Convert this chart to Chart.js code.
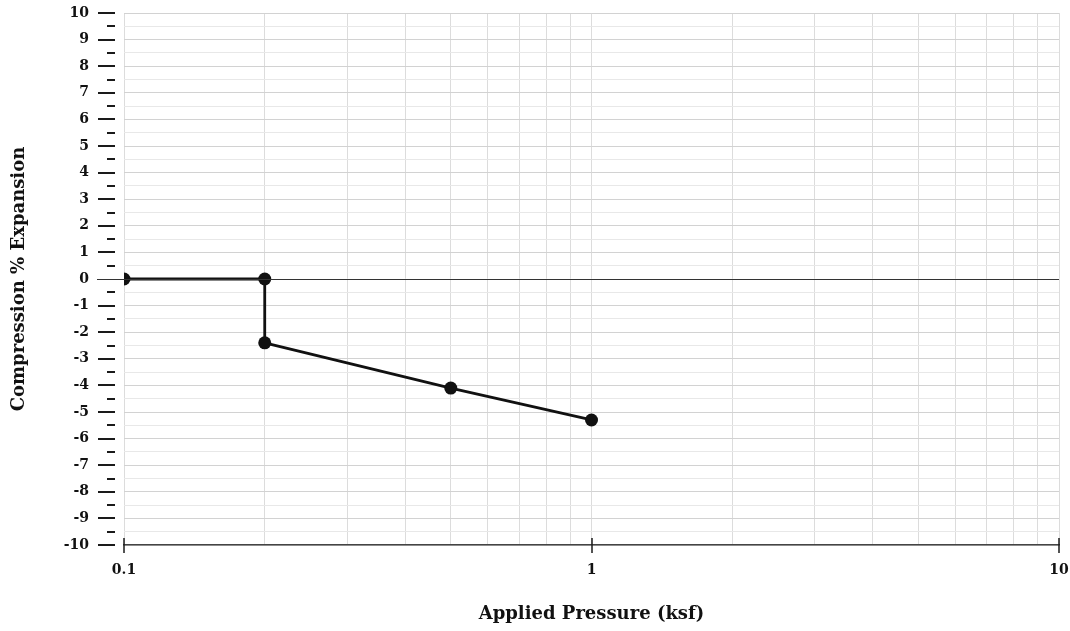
<!DOCTYPE html>
<html>
<head>
<meta charset="utf-8">
<script src="https://cdn.jsdelivr.net/npm/chart.js@4/dist/chart.umd.min.js"></script>
<style>
html,body{margin:0;padding:0;background:#fff;}
#wrap{width:1070px;height:631px;position:relative;}
</style>
</head>
<body>
<div id="wrap"><canvas id="c" width="1070" height="631"></canvas></div>
<script>
// ---- data ----
const pressureKsf = [0.1, 0.2, 0.2, 0.5, 1];
const compressionPct = [0, 0, -2.4, -4.1, -5.3];
const xGridValues = [0.1,0.2,0.3,0.4,0.5,0.6,0.7,0.8,0.9,1,2,3,4,5,6,7,8,9,10];
const xLabelValues = [0.1, 1, 10];
const yMin = -10, yMax = 10, yStep = 0.5;
const xTitle = 'Applied Pressure (ksf)';
const yTitle = 'Compression % Expansion';

const FONT = "'DejaVu Serif', 'Liberation Serif', serif";

const tickPlugin = {
  id: 'customTicks',
  afterDraw(chart) {
    const ctx = chart.ctx;
    const ys = chart.scales.y, xs = chart.scales.x;
    const ca = chart.chartArea;
    ctx.save();
    ctx.strokeStyle = '#1a1a1a';
    ctx.lineWidth = 2;
    for (let v = yMin; v <= yMax + 1e-9; v += yStep) {
      const py = Math.round(ys.getPixelForValue(v));
      const major = Math.abs(v - Math.round(v)) < 1e-9;
      ctx.beginPath();
      if (major && Math.abs(v) < 1e-9) {
        ctx.lineWidth = 1.2;
        ctx.strokeStyle = '#333';
        ctx.moveTo(ca.left - 27, py + 0.5);
        ctx.lineTo(ca.right, py + 0.5);
        ctx.stroke();
        ctx.lineWidth = 2;
        ctx.strokeStyle = '#1a1a1a';
        continue;
      }
      ctx.moveTo(ca.left - (major ? 26 : 17), py);
      ctx.lineTo(ca.left - 9, py);
      ctx.stroke();
    }
    ctx.lineWidth = 1.5;
    xLabelValues.forEach(v => {
      const px = Math.round(xs.getPixelForValue(v));
      ctx.beginPath();
      ctx.moveTo(px, ca.bottom - 7);
      ctx.lineTo(px, ca.bottom + 8);
      ctx.stroke();
    });
    ctx.restore();
  }
};

new Chart(document.getElementById('c'), {
  type: 'scatter',
  data: {
    datasets: [{
      data: pressureKsf.map((x, i) => ({x: x, y: compressionPct[i]})),
      showLine: true,
      borderColor: '#111',
      backgroundColor: '#111',
      borderWidth: 2.8,
      pointRadius: 6.5,
      pointHoverRadius: 6.5,
      pointBackgroundColor: '#111',
      pointBorderWidth: 0,
      tension: 0
    }]
  },
  options: {
    responsive: false,
    animation: false,
    events: [],
    layout: { padding: { top: 13, right: 11, left: 0, bottom: 0 } },
    plugins: { legend: { display: false }, tooltip: { enabled: false } },
    scales: {
      x: {
        type: 'logarithmic',
        min: 0.1, max: 10,
        afterBuildTicks(scale) { scale.ticks = xGridValues.map(v => ({value: v})); },
        afterFit(scale) { scale.height = 86; scale.paddingLeft = 0; scale.paddingRight = 0; },
        grid: { color: '#dcdcdc', lineWidth: 1, drawTicks: false },
        border: { display: true, color: '#444', width: 1.5 },
        ticks: {
          autoSkip: false, maxRotation: 0, padding: 17,
          color: '#111',
          font: { family: FONT, size: 14, weight: 'bold' },
          callback(v) { return xLabelValues.includes(v) ? String(v) : ''; }
        },
        title: {
          display: true, text: xTitle, color: '#111',
          font: { family: FONT, size: 18, weight: 'bold' },
          padding: { top: 0, bottom: 6 }
        }
      },
      y: {
        min: yMin, max: yMax,
        afterBuildTicks(scale) {
          const t = [];
          for (let v = yMin; v <= yMax + 1e-9; v += yStep) t.push({value: Math.round(v * 10) / 10});
          scale.ticks = t;
        },
        afterFit(scale) { scale.width = 124; scale.paddingTop = 0; scale.paddingBottom = 0; },
        grid: {
          drawTicks: false,
          color(ctx) {
            const v = ctx.tick ? ctx.tick.value : 0;
            return Number.isInteger(v) ? '#d2d2d2' : '#e8e8e8';
          },
          lineWidth: 1
        },
        border: { display: false },
        ticks: {
          autoSkip: false, padding: 35, color: '#111',
          font: { family: FONT, size: 14, weight: 'bold' },
          callback(v) { return Number.isInteger(v) ? String(v) : ''; }
        },
        title: {
          display: true, text: yTitle, color: '#111',
          font: { family: FONT, size: 18, weight: 'bold' },
          padding: { top: 9, bottom: 0 }
        }
      }
    }
  },
  plugins: [tickPlugin]
});
</script>
</body>
</html>
